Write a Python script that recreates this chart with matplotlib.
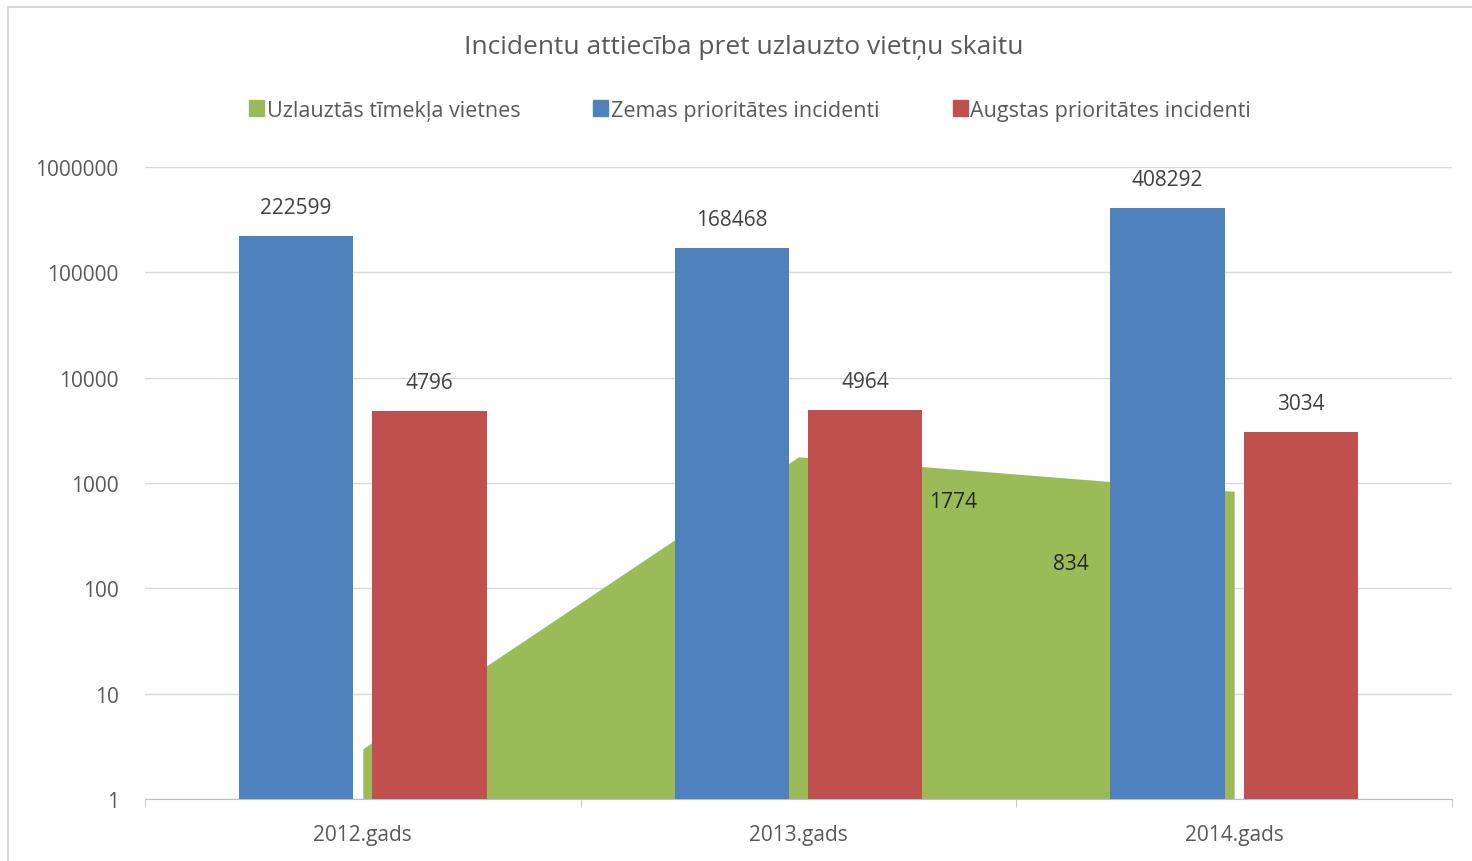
import matplotlib
matplotlib.use('Agg')
import matplotlib.pyplot as plt
from matplotlib.patches import Patch, Rectangle
import numpy as np

plt.rcParams['font.family'] = ['Open Sans', 'DejaVu Sans']

years = ['2012.gads', '2013.gads', '2014.gads']
hacked_sites = [3, 1774, 834]
low_priority = [222599, 168468, 408292]
high_priority = [4796, 4964, 3034]

c_green = '#9BBB59'
c_blue = '#4F81BD'
c_red = '#C0504D'
c_text = '#595959'

fig = plt.figure(figsize=(14.72, 8.62), dpi=100)
fig.patch.set_facecolor('white')
ax = fig.add_axes([145/1472, 1 - 800/862, 1307/1472, 632/862])

x = np.arange(len(years))
width = 0.262
off = 0.153

# green area between category centres
ax.fill_between(x, 1, hacked_sites, color=c_green, linewidth=0, zorder=2)
ax.bar(x - off, low_priority, width, bottom=1, color=c_blue, zorder=3)
ax.bar(x + off, high_priority, width, bottom=1, color=c_red, zorder=3)

ax.set_yscale('log')
ax.set_ylim(1, 1e6)
ax.set_xlim(-0.5, 2.5)
ax.set_yticks([1, 10, 100, 1000, 10000, 100000, 1000000])
ax.set_yticklabels(['1', '10', '100', '1000', '10000', '100000', '1000000'])
ax.minorticks_off()
ax.yaxis.grid(True, color='#D9D9D9', linewidth=1, zorder=0)
ax.set_axisbelow(True)

ax.set_xticks(x)
ax.set_xticklabels(years)
ax.set_xticks([-0.5, 0.5, 1.5, 2.5], minor=True)
ax.tick_params(axis='x', which='major', length=0, pad=18, labelsize=15, labelcolor=c_text)
ax.tick_params(axis='x', which='minor', length=6, color='#BFBFBF', direction='out')
ax.tick_params(axis='y', length=0, pad=19, labelsize=15, labelcolor=c_text)

for s in ['top', 'right', 'left']:
    ax.spines[s].set_visible(False)
ax.spines['bottom'].set_color('#BFBFBF')

# data labels
for i in range(len(years)):
    ax.annotate(str(low_priority[i]), (x[i] - off, low_priority[i]), xytext=(0, 18),
                textcoords='offset pixels', ha='center', va='bottom', fontsize=15, color='#404040')
    ax.annotate(str(high_priority[i]), (x[i] + off, high_priority[i]), xytext=(0, 18),
                textcoords='offset pixels', ha='center', va='bottom', fontsize=15, color='#404040')
ax.annotate(str(hacked_sites[1]), (x[1], hacked_sites[1]), xytext=(155, -45),
            textcoords='offset pixels', ha='center', va='center', fontsize=15, color='#262626', zorder=5)
ax.annotate(str(hacked_sites[2]), (x[2], hacked_sites[2]), xytext=(-163, -72),
            textcoords='offset pixels', ha='center', va='center', fontsize=15, color='#262626', zorder=5)

fig.text(744/1472, 1 - 48/862, 'Incidentu attiecība pret uzlauzto vietņu skaitu',
         ha='center', va='center', fontsize=19, color=c_text)

handles = [Patch(color=c_green), Patch(color=c_blue), Patch(color=c_red)]
labels = ['Uzlauztās tīmekļa vietnes', 'Zemas prioritātes incidenti', 'Augstas prioritātes incidenti']
fig.legend(handles, labels, loc='center', bbox_to_anchor=(750/1472, 1 - 111/862), ncol=3,
           frameon=False, fontsize=15.5, labelcolor=c_text, handlelength=0.7, handleheight=0.7,
           handletextpad=0.12, columnspacing=3.4)

fig.patches.append(Rectangle((8/1472, -0.01), 1.0, 1 - 8/862 + 0.01, transform=fig.transFigure,
                             fill=False, edgecolor='#D9D9D9', linewidth=1.5))

fig.savefig('out.png', dpi=100)
